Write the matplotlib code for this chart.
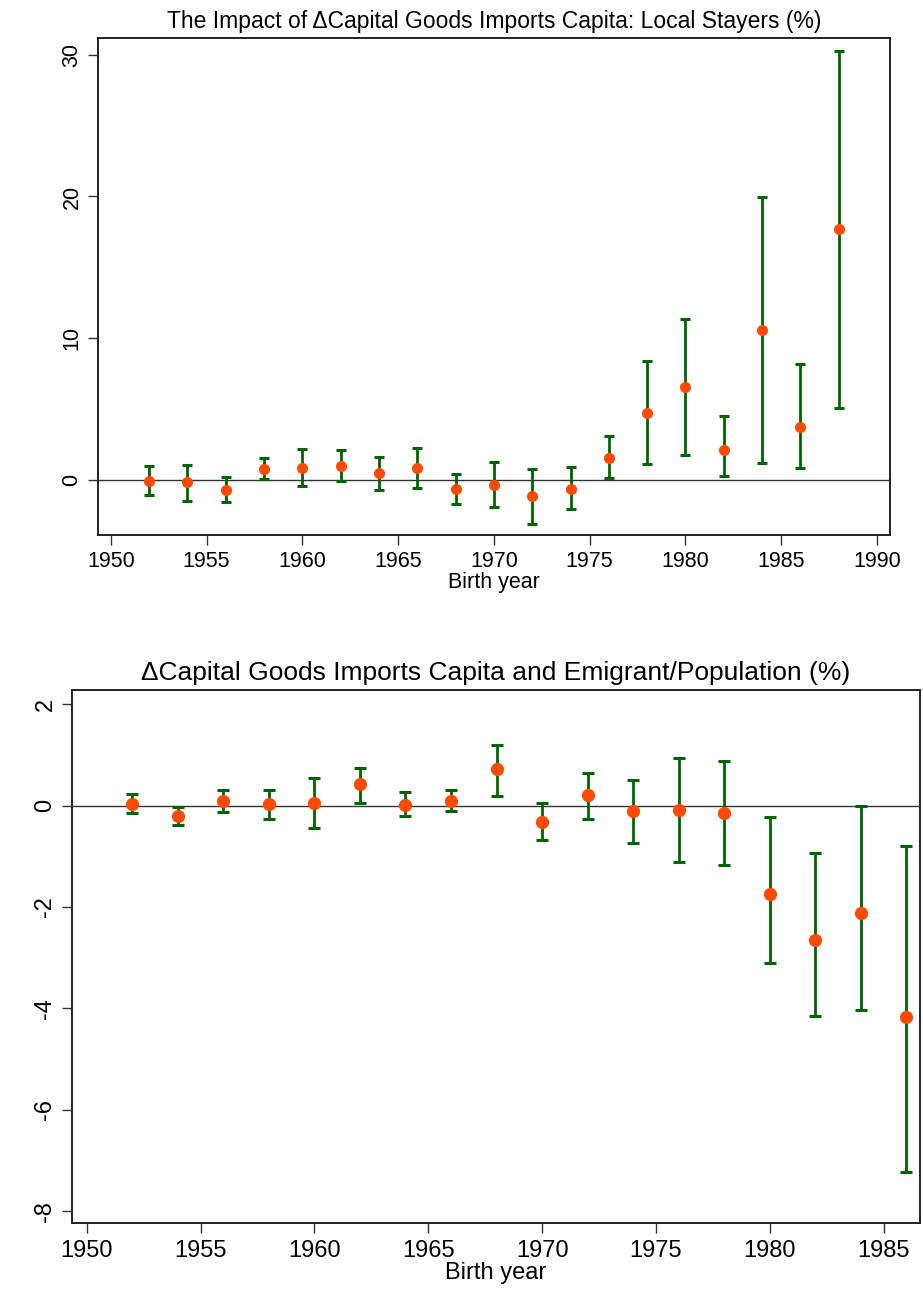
import matplotlib
matplotlib.use("Agg")
import matplotlib.pyplot as plt

plt.rcParams['font.family'] = ['Liberation Sans', 'DejaVu Sans']

# Top panel: Local stayers
years_top = [1952, 1954, 1956, 1958, 1960, 1962, 1964, 1966, 1968, 1970,
             1972, 1974, 1976, 1978, 1980, 1982, 1984, 1986, 1988]
coef_top = [-0.05, -0.17, -0.71, 0.78, 0.87, 0.97, 0.52, 0.87, -0.61, -0.35,
            -1.13, -0.60, 1.54, 4.73, 6.55, 2.13, 10.57, 3.71, 17.68]
hi_top = [0.97, 1.06, 0.19, 1.58, 2.17, 2.10, 1.65, 2.29, 0.45, 1.25,
          0.80, 0.91, 3.07, 8.39, 11.35, 4.49, 19.95, 8.16, 30.25]
lo_top = [-1.04, -1.47, -1.56, 0.07, -0.45, -0.09, -0.71, -0.54, -1.68, -1.91,
          -3.07, -2.07, 0.12, 1.11, 1.77, 0.31, 1.18, 0.85, 5.08]

# Bottom panel: Emigrant/Population
years_bot = [1952, 1954, 1956, 1958, 1960, 1962, 1964, 1966, 1968, 1970,
             1972, 1974, 1976, 1978, 1980, 1982, 1984, 1986]
coef_bot = [0.04, -0.21, 0.10, 0.04, 0.05, 0.43, 0.02, 0.10, 0.72, -0.33,
            0.21, -0.10, -0.09, -0.15, -1.74, -2.65, -2.11, -4.17]
hi_bot = [0.22, -0.03, 0.31, 0.31, 0.54, 0.75, 0.26, 0.30, 1.19, 0.06,
          0.65, 0.51, 0.93, 0.87, -0.23, -0.93, -0.01, -0.79]
lo_bot = [-0.15, -0.39, -0.12, -0.26, -0.44, 0.06, -0.20, -0.11, 0.18, -0.68,
          -0.26, -0.73, -1.11, -1.18, -3.10, -4.16, -4.04, -7.22]

title_top = "The Impact of \u0394Capital Goods Imports Capita: Local Stayers (%)"
title_bot = "\u0394Capital Goods Imports Capita and Emigrant/Population (%)"
xlabel = "Birth year"

GREEN = "#006400"
ORANGE = "#FF4A00"

fig = plt.figure(figsize=(9.23, 12.96), dpi=100)
ax1 = fig.add_axes([0.1059, 0.5874, 0.9643 - 0.1059, 0.9709 - 0.5874])
ax2 = fig.add_axes([0.0777, 0.0561, 0.9968 - 0.0777, 0.4676 - 0.0561])


def panel(ax, years, coef, lo, hi, title, xlim, ylim, xticks, yticks,
          fs_tick, fs_label, fs_title, msize, capw, labelpad, xpad):
    ax.axhline(0, color="#333333", linewidth=1.0, zorder=1)
    ax.vlines(years, lo, hi, color=GREEN, linewidth=2.0, zorder=2)
    ax.plot(years, lo, linestyle="none", marker="_", markersize=capw,
            markeredgewidth=2.2, color=GREEN, zorder=2)
    ax.plot(years, hi, linestyle="none", marker="_", markersize=capw,
            markeredgewidth=2.2, color=GREEN, zorder=2)
    ax.plot(years, coef, linestyle="none", marker="o", markersize=msize,
            color=ORANGE, markeredgewidth=0, zorder=3)
    ax.set_xlim(*xlim)
    ax.set_ylim(*ylim)
    ax.set_xticks(xticks)
    ax.set_yticks(yticks)
    ax.set_yticklabels([str(v) for v in yticks], rotation=90, va="center")
    ax.tick_params(axis="both", length=7, width=1, labelsize=fs_tick, color="#333333")
    ax.tick_params(axis="y", pad=4)
    ax.tick_params(axis="x", pad=xpad)
    ax.set_xlabel(xlabel, fontsize=fs_label, labelpad=labelpad)
    ax.set_title(title, fontsize=fs_title, pad=7)
    for s in ax.spines.values():
        s.set_linewidth(1.4)
        s.set_color("#222222")


panel(ax1, years_top, coef_top, lo_top, hi_top, title_top,
      (1949.32, 1990.68), (-3.86, 31.2),
      [1950, 1955, 1960, 1965, 1970, 1975, 1980, 1985, 1990], [0, 10, 20, 30],
      fs_tick=15.5, fs_label=15.5, fs_title=16.5, msize=8, capw=7.5,
      labelpad=0, xpad=5)
panel(ax2, years_bot, coef_bot, lo_bot, hi_bot, title_bot,
      (1949.34, 1986.6), (-8.24, 2.28),
      [1950, 1955, 1960, 1965, 1970, 1975, 1980, 1985], [-8, -6, -4, -2, 0, 2],
      fs_tick=17, fs_label=17, fs_title=19, msize=9.5, capw=8,
      labelpad=0, xpad=5)

fig.savefig("out.png", dpi=100)
